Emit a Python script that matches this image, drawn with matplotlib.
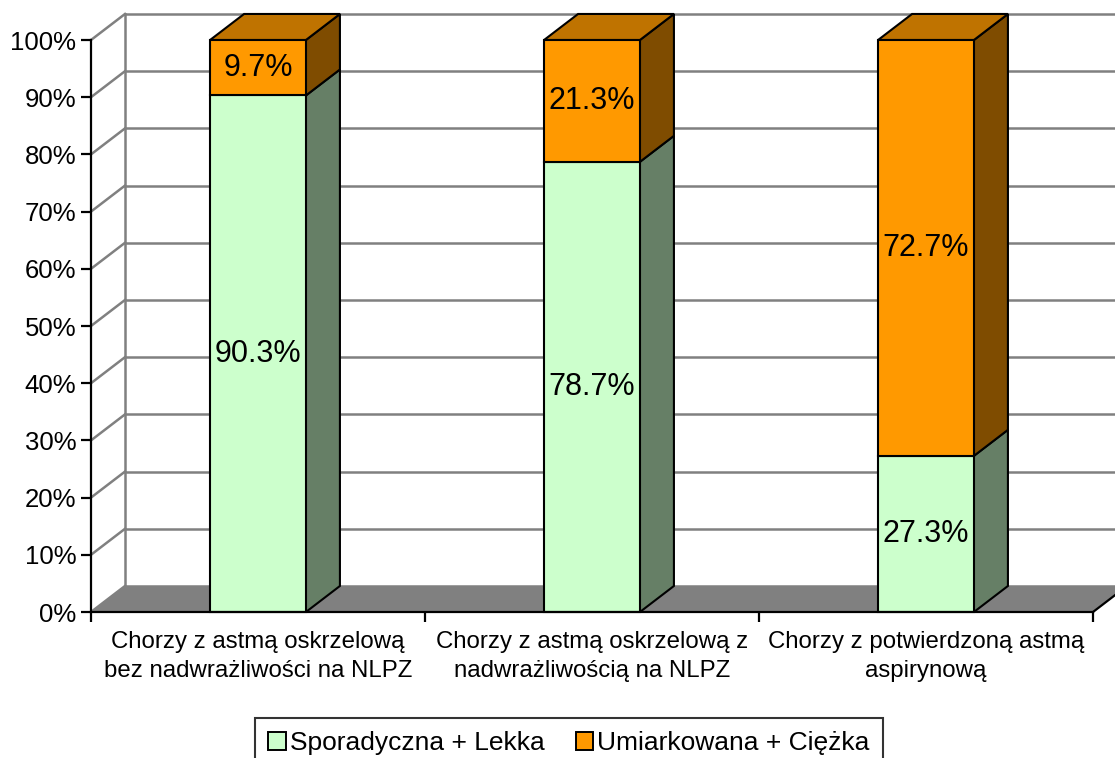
import matplotlib.pyplot as plt
from matplotlib.patches import Polygon, Patch

plt.rcParams['font.family'] = ['Liberation Sans', 'DejaVu Sans']

categories = ['Chorzy z astmą oskrzelową\nbez nadwrażliwości na NLPZ',
              'Chorzy z astmą oskrzelową z\nnadwrażliwością na NLPZ',
              'Chorzy z potwierdzoną astmą\naspirynową']
light = [90.3, 78.7, 27.3]      # Sporadyczna + Lekka
severe = [9.7, 21.3, 72.7]      # Umiarkowana + Ciężka
series_names = ['Sporadyczna + Lekka', 'Umiarkowana + Ciężka']
yticks = list(range(0, 101, 10))

# colours: front face, side face, top face
green = ('#CCFFCC', '#667F66', '#99BF99')
orange = ('#FF9900', '#7F4C00', '#BF7300')

dx, dy = 0.1018, 4.55   # depth offset of the 3D walls
w = 0.287               # bar width
grid_c = '#808080'

fig = plt.figure(figsize=(11.15, 7.58), dpi=100)
ax = fig.add_axes([91/1115, 146/758, 1002/1115, 572/758])
ax.set_xlim(-0.5, 2.5)
ax.set_ylim(0, 100)

for s in ['top', 'right']:
    ax.spines[s].set_visible(False)
ax.spines['left'].set_linewidth(1.6)
ax.spines['bottom'].set_linewidth(1.6)
ax.spines['left'].set_zorder(20)
ax.spines['bottom'].set_zorder(20)

# back wall and left wall grid
x0, x1 = -0.5, 2.5
for y in yticks:
    ax.plot([x0 + dx, x1 + dx], [y + dy, y + dy], color=grid_c, lw=1.8,
            clip_on=False, zorder=1)
    ax.plot([x0, x0 + dx], [y, y + dy], color=grid_c, lw=1.8,
            clip_on=False, zorder=1)
ax.plot([x0 + dx, x0 + dx], [dy, 100 + dy], color=grid_c, lw=1.8,
        clip_on=False, zorder=1)

# floor
ax.add_patch(Polygon([(x0, 0), (x1, 0), (x1 + dx, dy), (x0 + dx, dy)],
                     closed=True, facecolor='#808080', edgecolor='none',
                     clip_on=False, zorder=2))
ax.plot([x1, x1 + dx], [0, dy], color='black', lw=1.6, clip_on=False, zorder=3)


def box(xc, bottom, height, cols, top=False):
    l, r = xc - w/2, xc + w/2
    t = bottom + height
    kw = dict(closed=True, edgecolor='black', lw=1.5, clip_on=False,
              joinstyle='miter', zorder=5)
    ax.add_patch(Polygon([(r, bottom), (r + dx, bottom + dy), (r + dx, t + dy), (r, t)],
                         facecolor=cols[1], **kw))
    if top:
        ax.add_patch(Polygon([(l, t), (r, t), (r + dx, t + dy), (l + dx, t + dy)],
                             facecolor=cols[2], **kw))
    ax.add_patch(Polygon([(l, bottom), (r, bottom), (r, t), (l, t)],
                         facecolor=cols[0], **kw))
    ax.text(xc, bottom + height/2, f'{height:.1f}%', ha='center', va='center',
            fontsize=22, zorder=6)


for i in range(len(categories)):
    box(i, 0, light[i], green)
    box(i, light[i], severe[i], orange, top=True)

ax.set_yticks(yticks)
ax.set_yticklabels([f'{v}%' for v in yticks], fontsize=18.5)
ax.tick_params(axis='y', direction='out', length=7, width=1.6, pad=3.5)

ax.set_xticks(range(len(categories)))
ax.set_xticklabels(categories, fontsize=17.3, linespacing=1.4)
ax.set_xticks([-0.5, 0.5, 1.5, 2.5], minor=True)
ax.tick_params(axis='x', which='major', length=0, pad=14)
ax.tick_params(axis='x', which='minor', direction='out', length=7, width=1.6)

handles = [Patch(facecolor=green[0], edgecolor='black', lw=1.4),
           Patch(facecolor=orange[0], edgecolor='black', lw=1.4)]
leg = fig.legend(handles, series_names, loc='upper center',
                 bbox_to_anchor=(569/1115, 40/758), ncol=2, fontsize=19,
                 frameon=True, fancybox=False, edgecolor='black',
                 handlelength=0.65, handleheight=0.65, handletextpad=0.15,
                 columnspacing=1.2, borderpad=0.5, borderaxespad=0)
leg.get_frame().set_linewidth(1.5)

fig.savefig('out.png', dpi=100)
